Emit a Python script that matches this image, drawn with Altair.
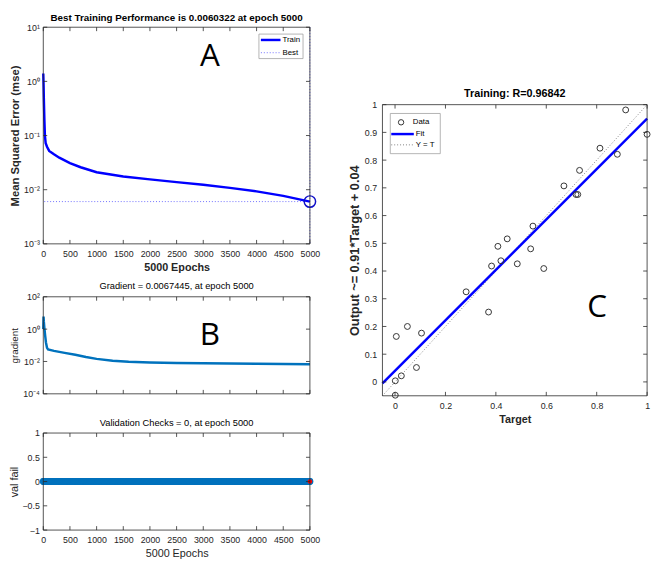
import altair as alt
import pandas as pd

FONT = "Liberation Sans"
AXC = "#262626"
TXT = "#262626"

# ---------------- data ----------------
# Panel A: training performance (MSE, log scale)
mse_epochs = [0, 5, 10, 20, 30, 45, 70, 110, 200, 300, 500, 700, 1000, 1500, 2000, 2500, 3000, 3500, 4000, 4500, 5000]
mse_values = [1.4, 0.9, 0.5, 0.2, 0.1, 0.072, 0.062, 0.052, 0.045, 0.039, 0.031, 0.026, 0.021, 0.0175, 0.0155, 0.0138, 0.0123, 0.0108, 0.0093, 0.0077, 0.0060322]
best_epoch = [5000]
best_mse = [0.0060322]

# Panel B: gradient
grad_epochs = [0, 5, 10, 20, 35, 50, 70, 90, 200, 400, 600, 800, 1000, 1300, 1600, 2000, 2500, 3000, 4000, 5000]
grad_values = [1.0, 6.0, 3.0, 1.2, 0.4, 0.15, 0.07, 0.055, 0.045, 0.034, 0.026, 0.019, 0.0145, 0.011, 0.0095, 0.0087, 0.0081, 0.0078, 0.0072, 0.0067445]

# Validation checks (0 at every epoch)
val_epochs = list(range(0, 5001, 10))
val_values = [0] * len(val_epochs)
val_last_epoch = [5000]
val_last_value = [0]

# Panel C: regression
targets = [0.915, 1.0, 0.813, 0.882, 0.732, 0.670, 0.718, 0.725, 0.547, 0.445, 0.408, 0.538, 0.420,
           0.485, 0.383, 0.590, 0.282, 0.371, 0.005, 0.049, 0.105, 0.085, 0.025, 0.001, 0.001]
outputs = [0.981, 0.893, 0.843, 0.821, 0.763, 0.707, 0.676, 0.676, 0.562, 0.516, 0.489, 0.480, 0.437,
           0.426, 0.418, 0.409, 0.325, 0.252, 0.164, 0.200, 0.176, 0.052, 0.022, 0.004, -0.048]
fit_x = [-0.05, 1.0]
fit_y = [-0.0055, 0.95]
yt_x = [-0.05, 1.0]
yt_y = [-0.05, 1.0]

epoch_ticks = [0, 500, 1000, 1500, 2000, 2500, 3000, 3500, 4000, 4500, 5000]
mse_ticks = [0.001, 0.01, 0.1, 1, 10]
grad_ticks = [0.0001, 0.01, 1, 100]
val_ticks = [-1, -0.5, 0, 0.5, 1]
reg_xticks = [0, 0.2, 0.4, 0.6, 0.8, 1]
reg_yticks = [0, 0.1, 0.2, 0.3, 0.4, 0.5, 0.6, 0.7, 0.8, 0.9, 1]

# ---------------- helpers ----------------
one = pd.DataFrame({"a": [0]})


def box(w, h):
    return alt.Chart(one).mark_rect(fill=None, stroke=AXC, strokeWidth=0.8).encode(
        x=alt.value(0), x2=alt.value(w), y=alt.value(0), y2=alt.value(h))


def inner_ticks(xvals, yvals, xscale, yscale, xaxis, yaxis, xf, yf, w, h, L=4):
    tx = pd.DataFrame({xf: xvals})
    ty = pd.DataFrame({yf: yvals})
    bx = alt.Chart(tx).mark_rule(color=AXC, strokeWidth=0.8)
    by = alt.Chart(ty).mark_rule(color=AXC, strokeWidth=0.8)
    X = alt.X(f"{xf}:Q", scale=xscale, axis=xaxis)
    Y = alt.Y(f"{yf}:Q", scale=yscale, axis=yaxis)
    return [
        bx.encode(x=X, y=alt.value(h), y2=alt.value(h - L)),
        bx.encode(x=X, y=alt.value(0), y2=alt.value(L)),
        by.encode(y=Y, x=alt.value(0), x2=alt.value(L)),
        by.encode(y=Y, x=alt.value(w), x2=alt.value(w - L)),
    ]


def ax(title, values=None, tsize=11, bold=True, label_expr=None, labels=True, fmt=None, pad=5, **kw):
    d = dict(title=title, grid=False, ticks=False, domain=False, labelFont=FONT, labelFontSize=9,
             labelColor=TXT, titleFont=FONT, titleFontSize=tsize,
             titleFontWeight="bold" if bold else "normal", titleColor=TXT, labelPadding=pad,
             titlePadding=3, labelFlush=False)
    if values is not None:
        d["values"] = values
    if label_expr is not None:
        d["labelExpr"] = label_expr
    if fmt is not None:
        d["format"] = fmt
    if not labels:
        d["labelOpacity"] = 0
    d.update(kw)
    return alt.Axis(**d)


def ttl(text, bold, size, offset=2):
    return alt.TitleParams(text=text, font=FONT, fontSize=size, fontWeight="bold" if bold else "normal",
                           color="black", offset=offset)


def letter(ch, x, y):
    return alt.Chart(one).mark_text(text=ch, font="Open Sans", fontSize=32, color="black").encode(
        x=alt.value(x), y=alt.value(y))


def legend_entry_text(txt, x, y):
    return alt.Chart(one).mark_text(text=txt, font=FONT, fontSize=8, color="black", align="left").encode(
        x=alt.value(x), y=alt.value(y))


# ---------------- Panel A ----------------
WL = 272
HA = 221
xA = alt.Scale(domain=[0, 5000], nice=False)
yA = alt.Scale(type="log", domain=[0.001, 10], nice=False)
mse_df = pd.DataFrame({"epoch": mse_epochs, "mse": mse_values})
best_df = pd.DataFrame({"epoch": best_epoch, "mse": best_mse})

mse_lbl = ("datum.value >= 5 ? '10¹' : datum.value >= 0.5 ? '10⁰' : datum.value >= 0.05 ? '10⁻¹' : "
           "datum.value >= 0.005 ? '10⁻²' : '10⁻³'")
axA_x = ax("5000 Epochs", epoch_ticks, 11, fmt="d", pad=6)
axA_y = ax("Mean Squared Error  (mse)", mse_ticks, 11.5, label_expr=mse_lbl, pad=4)
XA = alt.X("epoch:Q", scale=xA, axis=axA_x)
YA = alt.Y("mse:Q", scale=yA, axis=axA_y)

a_line = alt.Chart(mse_df).mark_line(color="#0000ff", strokeWidth=2.5).encode(x=XA, y=YA)
a_hbest = alt.Chart(best_df).mark_rule(color="#7070ff", strokeWidth=1, strokeDash=[1, 2]).encode(y=YA)
a_vbest = alt.Chart(best_df).mark_rule(color="#7070ff", strokeWidth=1, strokeDash=[1, 2]).encode(x=XA)
a_circ = alt.Chart(best_df).mark_point(shape="circle", size=135, filled=False, color="#1010c8",
                                       strokeWidth=1.5, opacity=1).encode(x=XA, y=YA)
# legend A
a_leg_box = alt.Chart(one).mark_rect(fill="white", stroke="#a0a0a0", strokeWidth=0.8).encode(
    x=alt.value(220), x2=alt.value(265), y=alt.value(7), y2=alt.value(32))
a_leg_l1 = alt.Chart(one).mark_rule(color="#0000ff", strokeWidth=2.5).encode(
    x=alt.value(222), x2=alt.value(242), y=alt.value(13))
a_leg_l2 = alt.Chart(one).mark_rule(color="#7070ff", strokeWidth=1, strokeDash=[1, 2]).encode(
    x=alt.value(222), x2=alt.value(242), y=alt.value(26))

panelA = alt.layer(
    a_hbest, a_vbest, a_line, a_circ,
    *inner_ticks(epoch_ticks, mse_ticks, xA, yA, axA_x, axA_y, "epoch", "mse", WL, HA), box(WL, HA),
    a_leg_box, a_leg_l1, a_leg_l2,
    legend_entry_text("Train", 244, 13), legend_entry_text("Best", 244, 26),
    letter("A", 170, 30),
).properties(width=WL, height=HA,
             title=ttl("Best Training Performance is 0.0060322 at epoch 5000", True, 10, offset=0))

# ---------------- Panel B ----------------
HB = 99
yB = alt.Scale(type="log", domain=[0.0001, 100], nice=False)
grad_df = pd.DataFrame({"epoch": grad_epochs, "grad": grad_values})
grad_lbl = ("datum.value >= 50 ? '10²' : datum.value >= 0.5 ? '10⁰' : datum.value >= 0.005 ? '10⁻²' : '10⁻⁴'")
axB_x = ax("", epoch_ticks, 11, labels=False, fmt="d", pad=6)
axB_y = ax("gradient", grad_ticks, 10, bold=False, label_expr=grad_lbl, pad=4)
b_line = alt.Chart(grad_df).mark_line(color="#0072BD", strokeWidth=2.5).encode(
    x=alt.X("epoch:Q", scale=xA, axis=axB_x),
    y=alt.Y("grad:Q", scale=yB, axis=axB_y),
)
panelB = alt.layer(
    b_line, *inner_ticks(epoch_ticks, grad_ticks, xA, yB, axB_x, axB_y, "epoch", "grad", WL, HB),
    box(WL, HB), letter("B", 170, 39),
).properties(width=WL, height=HB, title=ttl("Gradient = 0.0067445, at epoch 5000", False, 9.5))

# ---------------- Validation panel ----------------
yV = alt.Scale(domain=[-1, 1], nice=False)
val_df = pd.DataFrame({"epoch": val_epochs, "fail": val_values})
last_df = pd.DataFrame({"epoch": val_last_epoch, "fail": val_last_value})
axV_x = ax("5000 Epochs", epoch_ticks, 11, bold=False, fmt="d", pad=6)
axV_y = ax("val fail", val_ticks, 11, bold=False, fmt="~g", pad=4)
XV = alt.X("epoch:Q", scale=xA, axis=axV_x)
YV = alt.Y("fail:Q", scale=yV, axis=axV_y)
v_pts = alt.Chart(val_df).mark_circle(color="#0072BD", size=50, opacity=1).encode(x=XV, y=YV)
v_last = alt.Chart(last_df).mark_circle(color="#ff0000", size=22, opacity=1).encode(x=XV, y=YV)
panelV = alt.layer(
    v_pts, v_last, *inner_ticks(epoch_ticks, val_ticks, xA, yV, axV_x, axV_y, "epoch", "fail", WL, HB),
    box(WL, HB),
).properties(width=WL, height=HB, title=ttl("Validation Checks = 0, at epoch 5000", False, 9.5))

# ---------------- Regression panel ----------------
WR = 270
HR = 297
xR = alt.Scale(domain=[-0.05, 1], nice=False)
yR = alt.Scale(domain=[-0.05, 1], nice=False)
pts_df = pd.DataFrame({"target": targets, "output": outputs})
fit_df = pd.DataFrame({"target": fit_x, "output": fit_y})
yt_df = pd.DataFrame({"target": yt_x, "output": yt_y})
axR_x = ax("Target", reg_xticks, 11, fmt="~g", pad=6)
axR_y = ax("Output ~= 0.91*Target + 0.04", reg_yticks, 13, fmt="~g", pad=6)
XR = alt.X("target:Q", scale=xR, axis=axR_x)
YR = alt.Y("output:Q", scale=yR, axis=axR_y)

r_yt = alt.Chart(yt_df).mark_line(color="#808080", strokeWidth=1, strokeDash=[1, 2]).encode(x=XR, y=YR)
r_fit = alt.Chart(fit_df).mark_line(color="#0000ff", strokeWidth=2.5).encode(x=XR, y=YR)
r_pts = alt.Chart(pts_df).mark_point(shape="circle", size=36, filled=False, color="#333333",
                                     strokeWidth=1, opacity=1).encode(x=XR, y=YR)
r_leg_box = alt.Chart(one).mark_rect(fill="white", stroke="#a0a0a0", strokeWidth=0.8).encode(
    x=alt.value(8), x2=alt.value(59), y=alt.value(9), y2=alt.value(50))
r_leg_c = alt.Chart(one).mark_point(shape="circle", size=30, filled=False, color="#333333",
                                    strokeWidth=1, opacity=1).encode(x=alt.value(19), y=alt.value(18))
r_leg_l1 = alt.Chart(one).mark_rule(color="#0000ff", strokeWidth=2.5).encode(
    x=alt.value(9), x2=alt.value(32), y=alt.value(30))
r_leg_l2 = alt.Chart(one).mark_rule(color="#808080", strokeWidth=1, strokeDash=[1, 2]).encode(
    x=alt.value(9), x2=alt.value(32), y=alt.value(41))

panelR = alt.layer(
    r_yt, r_fit, r_pts,
    *inner_ticks(reg_xticks, reg_yticks, xR, yR, axR_x, axR_y, "target", "output", WR, HR), box(WR, HR),
    r_leg_box, r_leg_c, r_leg_l1, r_leg_l2,
    legend_entry_text("Data", 31, 18), legend_entry_text("Fit", 34, 30), legend_entry_text("Y = T", 34, 41),
    letter("C", 219, 207),
).properties(width=WR, height=HR, title=ttl("Training: R=0.96842", True, 11))

spacer = alt.Chart(one).mark_rule(opacity=0).encode(
    x=alt.value(10), x2=alt.value(20), y=alt.value(30)).properties(width=WR, height=54)

left = alt.vconcat(panelA, panelB, panelV, spacing=9)
right = alt.vconcat(spacer, panelR, spacing=8)

chart = alt.hconcat(left, right, spacing=28).configure_view(stroke=None).properties(
    padding={"left": 0, "top": 0, "right": 0, "bottom": 0})

chart.save("out.html", embed_options={"renderer": "svg", "actions": False})
